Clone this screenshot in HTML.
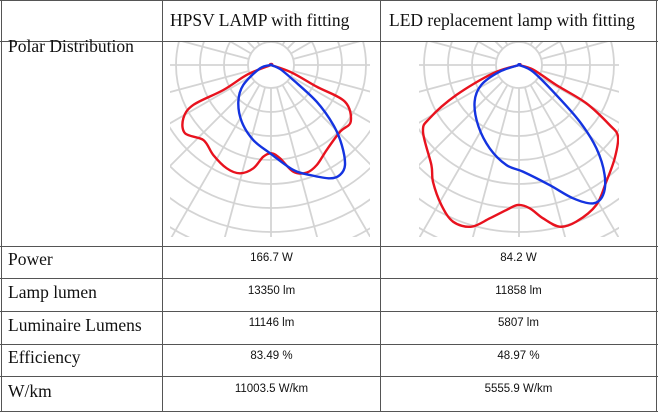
<!DOCTYPE html>
<html><head><meta charset="utf-8"><style>
body{margin:0;width:658px;height:413px;background:#fff;overflow:hidden;position:relative;font-family:"Liberation Serif",serif}
.l{position:absolute;background:#555}
.t{position:absolute;font-size:17.5px;color:#111;white-space:nowrap}
.v{position:absolute;font-family:"Liberation Sans",sans-serif;font-size:11.5px;color:#111;text-align:center;white-space:nowrap}
</style></head><body>
<div class="l" style="left:0;top:0;width:658px;height:1px"></div>
<div class="l" style="left:0;top:41px;width:658px;height:1px"></div>
<div class="l" style="left:0;top:246px;width:658px;height:1px"></div>
<div class="l" style="left:0;top:278px;width:658px;height:1px"></div>
<div class="l" style="left:0;top:311px;width:658px;height:1px"></div>
<div class="l" style="left:0;top:344px;width:658px;height:1px"></div>
<div class="l" style="left:0;top:376px;width:658px;height:1px"></div>
<div class="l" style="left:0;top:411px;width:658px;height:1px"></div>
<div class="l" style="left:1px;top:0;width:1px;height:412px"></div>
<div class="l" style="left:162px;top:0;width:1px;height:412px"></div>
<div class="l" style="left:380px;top:0;width:1px;height:412px"></div>
<div class="l" style="left:656px;top:0;width:1px;height:412px"></div>

<div class="t" style="left:170px;top:10px">HPSV LAMP with fitting</div>
<div class="t" style="left:389px;top:10px">LED replacement lamp with fitting</div>
<div class="t" style="left:8px;top:36px">Polar Distribution</div>
<div class="t" style="left:8px;top:249px">Power</div>
<div class="t" style="left:8px;top:282px">Lamp lumen</div>
<div class="t" style="left:8px;top:315px">Luminaire Lumens</div>
<div class="t" style="left:8px;top:347px">Efficiency</div>
<div class="t" style="left:8px;top:381px">W/km</div>

<div class="v" style="left:163px;width:217px;top:252px">166.7 W</div>
<div class="v" style="left:381px;width:275px;top:252px">84.2 W</div>
<div class="v" style="left:163px;width:217px;top:285px">13350 lm</div>
<div class="v" style="left:381px;width:275px;top:285px">11858 lm</div>
<div class="v" style="left:163px;width:217px;top:317px">11146 lm</div>
<div class="v" style="left:381px;width:275px;top:317px">5807 lm</div>
<div class="v" style="left:163px;width:217px;top:350px">83.49 %</div>
<div class="v" style="left:381px;width:275px;top:350px">48.97 %</div>
<div class="v" style="left:163px;width:217px;top:383px">11003.5 W/km</div>
<div class="v" style="left:381px;width:275px;top:383px">5555.9 W/km</div>

<svg id="svg" width="658" height="413" style="position:absolute;left:0;top:0">
<defs>
<clipPath id="c1"><rect x="170" y="42" width="200" height="195"/></clipPath>
<clipPath id="c2"><rect x="419" y="42" width="200" height="195"/></clipPath>
</defs>
</svg>
<script>
// angle from nadir (deg, + = right), intensity (relative units)
const hpsvRedAng=[-80,-68,-62.3,-62.8,-58.7,-51.5,-42,-32.7,-23.2,-16,-9.7,-4.8,0.4,5.5,11.8,18.3,24.6,33.2,46,54.6,63.6,64.6,70,80];
const hpsvRedVal=[0,25,53.8,87.4,102.6,109.8,101,106.9,112.4,112.7,104.8,92,88.3,93.7,109,113.4,110,101.6,96,97.8,82.6,50.6,22,0];
const hpsvBlueAng=[-80,-73,-54.2,-41.7,-27.3,-13.3,-0.6,12,19.5,27.5,32.1,36.5,41.5,46.1,51.2,56,66,80];
const hpsvBlueVal=[0,11.5,34.2,49.1,63.8,77.1,88.3,107.3,116.7,127.8,129.8,124.4,106.8,86.5,58.6,26.9,10,0];
const ledRedAng=[-80,-72.3,-64.4,-59.2,-55.2,-41.2,-36.4,-29,-22.8,-16.4,-10.8,-5,-0.4,4.3,8.9,14.1,20.1,28.9,36.8,45.7,54.1,56.5,60.4,61.8,72,80];
const ledRedVal=[0,27.3,69.5,104,116.9,133,145,160.1,170,168.6,156.1,145.6,140,143.7,155.2,166.7,166.8,159.9,145.7,133.7,122.2,108.7,77.4,42.3,15,0];
const ledBlueAng=[-80,-70.9,-62.1,-50.4,-34.3,-19.4,-7.2,2.1,14.3,22.1,28.1,32.9,37.9,42.9,47,51.2,64.4,80];
const ledBlueVal=[0,20.5,42.7,57.6,72.7,88.3,100.8,106.7,123.9,143.9,156.9,154.8,139.4,113.7,83,47.9,15.5,0];
const gridRadii=[23,47,71,95,119,143,167,191,215];

const NS='http://www.w3.org/2000/svg';
const svg=document.getElementById('svg');
function pt(cx,cy,a,v){const r=a*Math.PI/180;return [cx+v*Math.sin(r),cy+v*Math.cos(r)];}
function smooth(p){let d=`M${p[0][0]},${p[0][1]}`;const n=p.length;
 for(let i=0;i<n;i++){const p0=p[(i-1+n)%n],p1=p[i],p2=p[(i+1)%n],p3=p[(i+2)%n];
  d+=` C${p1[0]+(p2[0]-p0[0])/6},${p1[1]+(p2[1]-p0[1])/6} ${p2[0]-(p3[0]-p1[0])/6},${p2[1]-(p3[1]-p1[1])/6} ${p2[0]},${p2[1]}`;}
 return d+'Z';}
function chart(cx,cy,clip,series,prefix){
 const g=document.createElementNS(NS,'g');g.setAttribute('clip-path',`url(#${clip})`);
 
 
 svg.appendChild(g);
 gridRadii.forEach(r=>{const c=document.createElementNS(NS,'circle');
  c.setAttribute('cx',cx);c.setAttribute('cy',cy);c.setAttribute('r',r);
  c.setAttribute('fill','none');c.setAttribute('stroke','#d4d4d4');c.setAttribute('stroke-width','1.8');
  
  
  g.appendChild(c);});
 for(let a=0;a<360;a+=15){const p1=pt(cx,cy,a,gridRadii[0]),p2=pt(cx,cy,a,300);
  const l=document.createElementNS(NS,'line');
  l.setAttribute('x1',p1[0]);l.setAttribute('y1',p1[1]);l.setAttribute('x2',p2[0]);l.setAttribute('y2',p2[1]);
  l.setAttribute('stroke','#d4d4d4');l.setAttribute('stroke-width','1.8');
  
  
  g.appendChild(l);}
 series.forEach(s=>{const pts=s.ang.map((a,i)=>pt(cx,cy,a,s.val[i]));
  const p=document.createElementNS(NS,'path');p.setAttribute('d',smooth(pts));
  p.setAttribute('fill','none');p.setAttribute('stroke',s.color);p.setAttribute('stroke-width','2.4');
  
  
  g.appendChild(p);});
}
chart(271,65,'c1',[{ang:hpsvRedAng,val:hpsvRedVal,color:'#e8121e',name:'hpsv-red-curve'},{ang:hpsvBlueAng,val:hpsvBlueVal,color:'#1433e0',name:'hpsv-blue-curve'}],'hpsv');
chart(519,65,'c2',[{ang:ledRedAng,val:ledRedVal,color:'#e8121e',name:'led-red-curve'},{ang:ledBlueAng,val:ledBlueVal,color:'#1433e0',name:'led-blue-curve'}],'led');
</script>
</body></html>
